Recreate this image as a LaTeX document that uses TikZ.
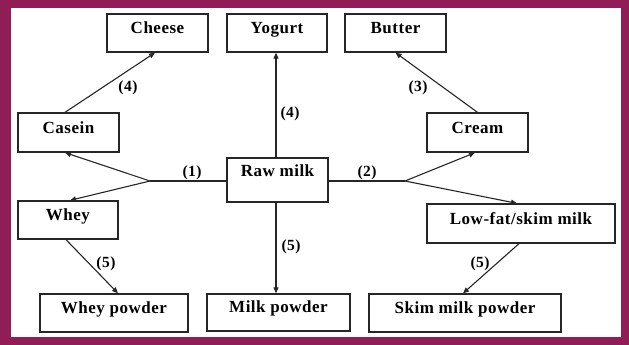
\documentclass[tikz,border=0pt]{standalone}
\usepackage{fontspec}
\setmainfont{Liberation Serif}[LetterSpace=3]
\usetikzlibrary{arrows.meta}
\definecolor{frame}{HTML}{901D56}
\tikzset{
  box/.style={draw=black!85, line width=1.3pt, inner sep=0pt, text height=19.5pt, text depth=18.5pt,
    font=\fontsize{17}{19}\selectfont\bfseries},
  conn/.style={line width=1.1pt, draw=black!85},
  arr/.style={conn, -{Triangle[length=6pt,width=5pt]}},
  lab/.style={font=\fontsize{15.5}{17}\selectfont\bfseries, inner sep=0pt}
}
\begin{document}
\begin{tikzpicture}[x=1pt,y=-1pt]
\fill[frame] (0,0) rectangle (629,345);
\fill[white] (11,8) rectangle (621,337);
\useasboundingbox (0,0) rectangle (629,345);
% boxes
\node[box, minimum width=101pt] (cheese) at (157.5,33) {Cheese};
\node[box, minimum width=100pt] (yogurt) at (277,33) {Yogurt};
\node[box, minimum width=101pt] (butter) at (395.5,33) {Butter};
\node[box, minimum width=101pt, text height=20pt, text depth=19pt] (casein) at (68.5,132.5) {Casein};
\node[box, minimum width=101pt, text height=20pt, text depth=19pt] (cream) at (477.5,132.5) {Cream};
\node[box, minimum width=101pt, text height=18.5pt, text depth=25.5pt] (raw) at (277.5,180) {Raw milk};
\node[box, minimum width=100pt] (whey) at (68,220) {Whey};
\node[box, minimum width=188pt, text height=20pt, text depth=19pt] (lowfat) at (521,223.5) {Low-fat/skim milk};
\node[box, minimum width=148pt] (wheyp) at (114,313) {Whey powder};
\node[box, minimum width=143pt, text height=18.5pt, text depth=18.5pt] (milkp) at (278.5,312.5) {Milk powder};
\node[box, minimum width=192pt] (skimp) at (465,313) {Skim milk powder};
% branch points
\coordinate (b1) at (150,181);
\coordinate (b2) at (405,181);
% connectors
\draw[conn] (raw.west |- b1) -- (b1);
\draw[conn] (raw.east |- b2) -- (b2);
\draw[arr] (b1) -- ([xshift=-3.5pt]casein.south);
\draw[arr] (b1) -- ([xshift=2pt]whey.north);
\draw[arr] (b2) -- ([xshift=-2.5pt]cream.south);
\draw[arr] (b2) -- ([xshift=-4pt]lowfat.north);
\draw[arr] ([xshift=-3.5pt]casein.north) -- ([xshift=-2.5pt]cheese.south);
\draw[arr] ([xshift=-1.5pt]raw.north) -- ([xshift=-1.5pt]raw.north |- yogurt.south);
\draw[arr] (cream.north) -- (butter.south);
\draw[arr] ([xshift=-2pt]whey.south) -- ([xshift=4pt]wheyp.north);
\draw[arr] ([xshift=-1.5pt]raw.south) -- ([xshift=-1.5pt]raw.south |- milkp.north);
\draw[arr] ([xshift=-2pt]lowfat.south) -- ([xshift=-2pt]skimp.north);
% labels
\node[lab] (l1) at (192,173) {(1)};
\node[lab] (l2) at (367,173) {(2)};
\node[lab] (l3) at (128,88) {(4)};
\node[lab] (l4) at (290,114) {(4)};
\node[lab] (l5) at (418,88) {(3)};
\node[lab] (l6) at (106,264) {(5)};
\node[lab] (l7) at (291,247) {(5)};
\node[lab] (l8) at (480,264) {(5)};
\end{tikzpicture}
\end{document}
